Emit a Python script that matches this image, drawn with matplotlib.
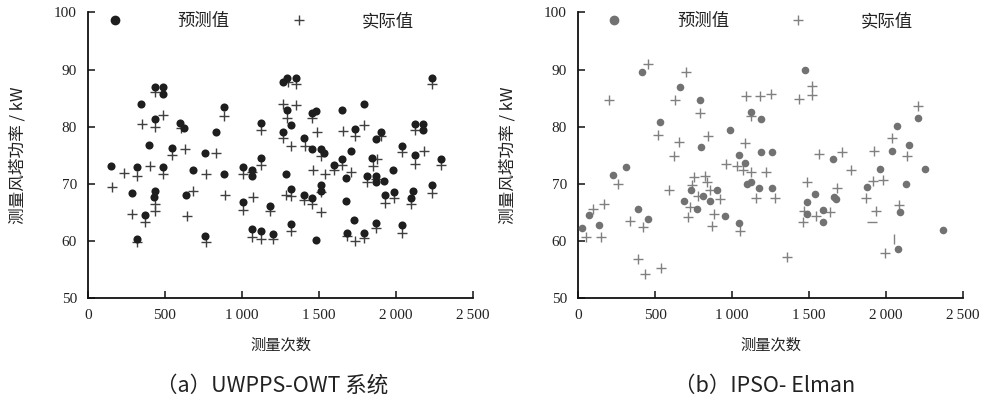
import matplotlib
matplotlib.use("Agg")
import matplotlib.pyplot as plt
from matplotlib.lines import Line2D
from matplotlib.ticker import FuncFormatter

plt.rcParams['font.family'] = ['Noto Sans CJK SC', 'DejaVu Sans']

# ---------------- data (a) UWPPS-OWT ----------------
a_pred_x = [344, 433, 489, 489, 433, 597, 626, 398, 545, 762, 831, 885, 1121, 1121, 1264, 1294, 1349,
            1290, 1316, 1264, 1404, 2236, 1457, 1481, 1651, 1790, 1736, 1901, 1870, 2123, 2177, 2177,
            1457, 1511, 1533, 1706, 2039, 2123, 2290, 1651, 1846, 151, 316, 485, 680, 885, 1009, 1067,
            1067, 1288, 284, 433, 429, 368, 316, 636, 760, 1009, 1180, 1067, 1125, 1203, 1316, 1316,
            1401, 1457, 1511, 1511, 1596, 1675, 1675, 1814, 1870, 1870, 1924, 1983, 1929, 1987, 2108,
            2097, 2236, 1481, 1729, 1680, 1790, 1870, 2041]
a_pred_y = [84.0, 87.0, 87.0, 85.7, 81.4, 80.7, 79.7, 76.8, 76.2, 75.4, 79.0, 83.4, 80.7, 74.6, 87.8, 88.6, 88.6,
            83.0, 80.35, 79.1, 78.0, 88.5, 82.4, 82.7, 83.0, 84.05, 79.6, 79.1, 77.9, 80.45, 80.45, 79.4,
            76.1, 76.05, 75.4, 75.7, 76.6, 75.0, 74.4, 74.4, 74.6, 73.15, 72.9, 73.0, 72.4, 71.7, 72.9, 72.45,
            71.3, 71.7, 68.35, 68.8, 67.75, 64.6, 60.4, 68.1, 60.9, 66.8, 66.2, 62.1, 61.8, 61.3, 63.0, 69.1,
            68.1, 67.5, 69.8, 68.8, 73.3, 71.0, 67.05, 71.4, 71.4, 70.25, 70.5, 72.45, 68.05, 68.5, 68.8,
            67.5, 69.8, 60.2, 63.75, 61.4, 61.5, 63.2, 62.8]
a_act_x = [433, 351, 433, 489, 604, 545, 632, 833, 885, 1121, 1301, 1349, 1264, 1351, 1290, 1264, 1320,
           1408, 2236, 1457, 1485, 1653, 1736, 1794, 1905, 2123, 1511, 2039, 2182, 156, 234, 316, 405,
           485, 764, 1121, 1009, 1067, 433, 433, 288, 368, 320, 684, 641, 887, 766, 1009, 1069, 1180,
           1067, 1125, 1203, 1316, 1316, 1286, 1401, 1457, 1511, 1511, 1459, 1539, 1596, 1651, 1708,
           1849, 1874, 1814, 1870, 1929, 1987, 2097, 2236, 2123, 2290, 1680, 1734, 1790, 1870, 2041]
a_act_y = [86.0, 80.4, 80.0, 82.1, 79.8, 75.0, 76.05, 75.4, 81.8, 79.4, 87.8, 87.5, 84.05, 83.8, 81.6, 78.1, 76.7,
           76.6, 87.4, 81.6, 79.0, 79.2, 78.4, 80.35, 78.4, 79.5, 74.8, 75.5, 75.7, 69.4, 71.9, 71.4, 73.15,
           71.65, 71.65, 73.3, 71.8, 72.0, 66.5, 65.3, 64.7, 63.3, 59.8, 68.8, 64.45, 68.05, 59.8, 65.4, 67.65, 65.2,
           60.7, 60.3, 60.4, 61.7, 67.9, 68.05, 67.2, 66.5, 68.5, 65.15, 72.4, 71.7, 72.4, 73.3, 72.1,
           73.15, 74.3, 70.25, 70.8, 66.7, 67.5, 66.5, 68.4, 73.4, 73.3, 60.9, 60.05, 60.6, 62.3, 61.45]

# ---------------- data (b) IPSO-Elman ----------------
b_pred_x = [414, 662, 792, 1123, 1186, 533, 799, 987, 1044, 1186, 1260, 1476, 2208, 2074, 2147, 2036, 1659,
            229, 312, 71, 28, 134, 392, 453, 690, 732, 814, 855, 773, 901, 957, 1083, 1096, 1121, 1175,
            1260, 1044, 1541, 1489, 1662, 1675, 1485, 1593, 1593, 1961, 2253, 1879, 2128, 2091, 2080, 2369]
b_pred_y = [89.5, 86.95, 84.6, 82.65, 81.4, 80.75, 76.5, 79.4, 75.0, 75.65, 75.65, 89.85, 81.5, 80.1, 76.8, 75.75, 74.4,
            71.5, 72.9, 64.6, 62.3, 62.8, 65.6, 63.8, 67.0, 68.9, 67.8, 67.0, 65.6, 68.9, 64.45, 73.7, 69.95, 70.25, 69.3,
            69.3, 63.2, 68.3, 66.9, 67.75, 67.35, 64.7, 65.5, 63.35, 72.6, 72.6, 69.4, 69.9, 65.15, 58.7, 61.9]
b_act_x = [457, 699, 201, 632, 792, 1091, 1182, 1253, 1123, 521, 658, 844, 1086, 623, 1521, 1521, 1437, 2208,
           2036, 2139, 1924, 1567, 1712, 258, 171, 99, 50, 147, 338, 420, 388, 435, 539, 593, 753, 822, 835,
           742, 781, 727, 716, 857, 922, 885, 872, 959, 1031, 1074, 1121, 1156, 1219, 1279, 1052, 1355, 1771,
           1485, 1680, 1470, 1636, 1545, 1463, 1913, 1983, 1870, 1935, 2087, 1994]
b_act_y = [90.95, 89.5, 84.6, 84.6, 82.4, 85.45, 85.45, 85.8, 81.8, 78.5, 77.3, 78.4, 77.2, 74.9, 87.05, 85.6, 84.9, 83.7,
           78.1, 74.9, 75.7, 75.3, 75.65, 69.95, 66.5, 65.6, 60.7, 60.8, 63.6, 62.5, 56.9, 54.3, 55.35, 68.9, 71.2, 71.4, 70.4,
           69.8, 67.9, 65.9, 64.3, 68.9, 67.4, 64.75, 62.6, 73.45, 73.15, 72.4, 72.0, 67.5, 72.05, 67.5, 61.7, 57.3, 72.45,
           70.4, 69.2, 65.3, 65.05, 64.45, 63.3, 70.55, 70.7, 67.5, 65.3, 66.3, 58.0]
# partially drawn "+" marks in panel (b)
b_hbar_x, b_hbar_y = [1911], [63.3]
b_vbar_x, b_vbar_y = [2052], [60.3]

x_ticks = [0, 500, 1000, 1500, 2000, 2500]
y_ticks = [50, 60, 70, 80, 90, 100]
legend_labels = ['预测值', '实际值']
x_label = '测量次数'
y_label = '测量风塔功率 / kW'
captions = ['（a）UWPPS-OWT 系统', '（b）IPSO- Elman']

W, H = 988, 403
fig = plt.figure(figsize=(W / 100, H / 100), dpi=100)

tick_font = {'family': ['Liberation Serif', 'DejaVu Serif'], 'size': 11}


def fmt(v, pos):
    v = int(round(v))
    if v >= 1000:
        return f"{v // 1000}\u2009{v % 1000:03d}"
    return str(v)


def setup(ax, legend_x, pred_color, act_color):
    ax.set_xlim(0, 2500)
    ax.set_ylim(50, 100)
    ax.set_xticks(x_ticks)
    ax.set_yticks(y_ticks)
    ax.xaxis.set_major_formatter(FuncFormatter(fmt))
    for s in ('top', 'right'):
        ax.spines[s].set_visible(False)
    for s in ('left', 'bottom'):
        ax.spines[s].set_linewidth(1.3)
        ax.spines[s].set_color('#111111')
    ax.tick_params(direction='in', length=5, width=1.1, color='#111111', pad=8)
    for lab in ax.get_xticklabels() + ax.get_yticklabels():
        lab.set_fontfamily(tick_font['family'])
        lab.set_fontsize(tick_font['size'])
        lab.set_color('#222222')
    ax.set_xlabel(x_label, fontsize=11, color='#222222')
    ax.xaxis.set_label_coords(0.5, -0.165)
    ax.xaxis.label.set_va('center')
    ax.set_ylabel(y_label, fontsize=12, color='#222222')
    ax.yaxis.set_label_coords(-0.182, 0.5)
    ax.yaxis.label.set_va('center')
    handles = [Line2D([], [], ls='none', marker='o', ms=6, color=pred_color),
               Line2D([], [], ls='none', marker='+', ms=7.5, mew=1.0, color=act_color)]
    ax.legend(handles, legend_labels, ncol=2, loc='upper left', bbox_to_anchor=(legend_x, 1.0),
              frameon=False, fontsize=12.5, handlelength=1.0, handletextpad=3.1,
              columnspacing=3.5, borderpad=0, borderaxespad=0, labelcolor='#222222')


ax1 = fig.add_axes([88 / W, 1 - 298.3 / H, 385 / W, 286 / H])
ax1.scatter(a_pred_x, a_pred_y, s=34, marker='o', color='#1e1e1e', linewidths=0, zorder=3)
ax1.scatter(a_act_x, a_act_y, s=55, marker='+', color='#404040', linewidths=1.0, zorder=2)
setup(ax1, 0.047, '#1e1e1e', '#404040')

ax2 = fig.add_axes([578 / W, 1 - 298.3 / H, 385 / W, 286 / H])
ax2.scatter(b_pred_x, b_pred_y, s=30, marker='o', color='#727272', linewidths=0, zorder=3)
ax2.scatter(b_act_x, b_act_y, s=55, marker='+', color='#808080', linewidths=1.0, zorder=2)
ax2.scatter(b_hbar_x, b_hbar_y, s=55, marker='_', color='#808080', linewidths=1.0, zorder=2)
ax2.scatter(b_vbar_x, b_vbar_y, s=55, marker='|', color='#808080', linewidths=1.0, zorder=2)
setup(ax2, 0.072, '#727272', '#808080')

fig.text(272 / W, 1 - 386 / H, captions[0], ha='center', va='center', fontsize=15.5, color='#222222',
         family=['Noto Sans CJK SC', 'DejaVu Sans'])
fig.text(765 / W, 1 - 386 / H, captions[1], ha='center', va='center', fontsize=15.5, color='#222222',
         family=['Noto Sans CJK SC', 'DejaVu Sans'])

fig.savefig('out.png', dpi=100)
